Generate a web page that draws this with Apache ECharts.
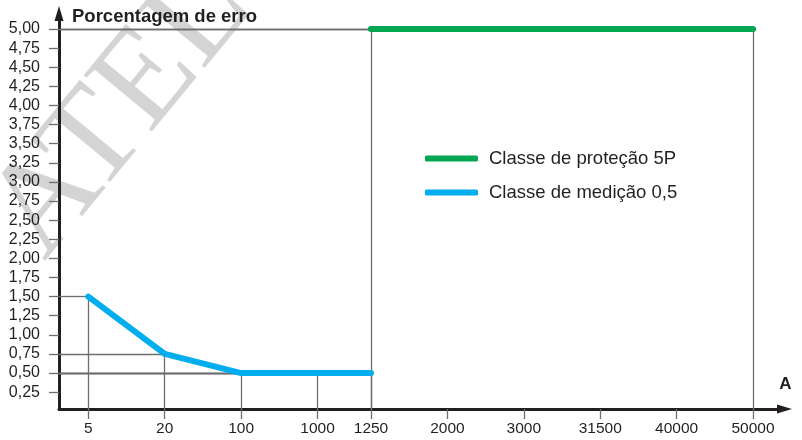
<!DOCTYPE html>
<html>
<head>
<meta charset="utf-8">
<script src="https://cdn.jsdelivr.net/npm/echarts@6/dist/echarts.min.js"></script>
<style>
  html, body { margin: 0; padding: 0; background: #ffffff; }
  #chart { width: 802px; height: 440px; }
</style>
</head>
<body>
<div id="chart"></div>
<script>
// Current values (A) shown along the horizontal axis
const currentLabels = ['5', '20', '100', '1000', '1250', '2000', '3000', '31500', '40000', '50000'];

// Protection class 5P: error limit (%) per current
const protecaoCurrent = ['1250', '50000'];
const protecaoError = [5.0, 5.0];

// Measurement class 0,5: error limit (%) per current
const medicaoCurrent = ['5', '20', '100', '1000', '1250'];
const medicaoError = [1.5, 0.75, 0.5, 0.5, 0.5];

// Error percentage ticks
const errorTicks = [0.25, 0.5, 0.75, 1.0, 1.25, 1.5, 1.75, 2.0, 2.25, 2.5, 2.75, 3.0,
                    3.25, 3.5, 3.75, 4.0, 4.25, 4.5, 4.75, 5.0];

const seriesNames = ['Classe de proteção 5P', 'Classe de medição 0,5'];

// Schematic horizontal slot for each current label (not to scale)
const slotPositions = [0, 1, 2, 3, 3.7, 4.7, 5.7, 6.7, 7.7, 8.7];
const slotOf = {};
currentLabels.forEach((c, i) => { slotOf[c] = slotPositions[i]; });

const X_MIN = -0.3835, X_MAX = 9.112;
const Y_MIN = 0.03, Y_MAX = 5.203;
const FONT = '"Liberation Sans", Arial, Helvetica, sans-serif';
const INK = '#231f20';
const GUIDE = '#6d6e71';

function points(cur, err) {
  return cur.map((c, i) => [slotOf[c], err[i]]);
}

// Thin reference lines from each vertex back to both axes
function guides(cur, err) {
  const out = [];
  cur.forEach((c, i) => {
    const x = slotOf[c], y = err[i];
    out.push([{ coord: [X_MIN, y] }, { coord: [x, y] }]);
    out.push([{ coord: [x, y] }, { coord: [x, Y_MIN] }]);
  });
  return out;
}

function guideMarks(cur, err) {
  return {
    silent: true,
    z: 1,
    animation: false,
    symbol: ['none', 'none'],
    label: { show: false },
    emphasis: { disabled: true },
    lineStyle: { color: GUIDE, width: 1.3, type: 'solid' },
    data: guides(cur, err)
  };
}

const chart = echarts.init(document.getElementById('chart'), null, { renderer: 'canvas' });

chart.setOption({
  animation: false,
  backgroundColor: '#ffffff',
  textStyle: { fontFamily: FONT },
  grid: { left: 59, right: 17.5, top: 13.5, bottom: 31, containLabel: false },
  graphic: [{
    type: 'text',
    x: 122,
    y: 112,
    rotation: 0.88,
    z: -10,
    silent: true,
    style: {
      text: 'ATEL',
      font: '135px "Liberation Serif", "DejaVu Serif", serif',
      fill: '#d4d4d4',
      textAlign: 'center',
      textVerticalAlign: 'middle'
    }
  }],
  legend: {
    orient: 'vertical',
    left: 420,
    top: 143,
    padding: 5,
    itemGap: 13,
    itemWidth: 53,
    itemHeight: 6,
    icon: 'roundRect',
    selectedMode: false,
    data: seriesNames,
    textStyle: {
      fontFamily: FONT,
      fontSize: 18.5,
      color: INK,
      lineHeight: 21,
      padding: [0, 0, 0, 6]
    }
  },
  xAxis: {
    type: 'value',
    min: X_MIN,
    max: X_MAX,
    name: 'A',
    nameLocation: 'end',
    nameGap: 7,
    nameTextStyle: {
      fontFamily: FONT, fontSize: 17, fontWeight: 'bold', color: INK,
      align: 'right', verticalAlign: 'bottom', padding: [0, 0, 16, 0]
    },
    axisLine: {
      onZero: false,
      symbol: ['none', 'triangle'],
      symbolSize: [9, 15],
      lineStyle: { color: INK, width: 3 }
    },
    axisTick: {
      show: true,
      customValues: slotPositions,
      length: 10,
      lineStyle: { color: GUIDE, width: 1.3 }
    },
    axisLabel: {
      customValues: slotPositions,
      margin: 12,
      fontFamily: FONT,
      fontSize: 15.5,
      color: INK,
      formatter: v => {
        const i = slotPositions.findIndex(p => Math.abs(p - v) < 1e-6);
        return i >= 0 ? currentLabels[i] : '';
      }
    },
    splitLine: { show: false }
  },
  yAxis: {
    type: 'value',
    min: Y_MIN,
    max: Y_MAX,
    name: 'Porcentagem de erro',
    nameLocation: 'end',
    nameGap: -3,
    nameTextStyle: {
      fontFamily: FONT, fontSize: 18.5, fontWeight: 'bold', color: INK,
      align: 'left', verticalAlign: 'middle', padding: [0, 0, 0, 13]
    },
    axisLine: {
      show: true,
      onZero: false,
      symbol: ['none', 'triangle'],
      symbolSize: [9, 15],
      lineStyle: { color: INK, width: 3 }
    },
    axisTick: {
      show: true,
      customValues: errorTicks,
      length: 10,
      lineStyle: { color: GUIDE, width: 1.3 }
    },
    axisLabel: {
      customValues: errorTicks,
      margin: 19,
      fontFamily: FONT,
      fontSize: 16,
      color: INK,
      formatter: v => v.toFixed(2).replace('.', ',')
    },
    splitLine: { show: false }
  },
  series: [
    {
      name: seriesNames[0],
      type: 'line',
      data: points(protecaoCurrent, protecaoError),
      symbol: 'none',
      z: 3,
      itemStyle: { color: '#00a651' },
      lineStyle: { color: '#00a651', width: 6, cap: 'round', join: 'round' },
      markLine: guideMarks(protecaoCurrent, protecaoError)
    },
    {
      name: seriesNames[1],
      type: 'line',
      data: points(medicaoCurrent, medicaoError),
      symbol: 'none',
      z: 3,
      itemStyle: { color: '#00aeef' },
      lineStyle: { color: '#00aeef', width: 6, cap: 'round', join: 'round' },
      markLine: guideMarks(medicaoCurrent, medicaoError)
    }
  ]
});
</script>
</body>
</html>
